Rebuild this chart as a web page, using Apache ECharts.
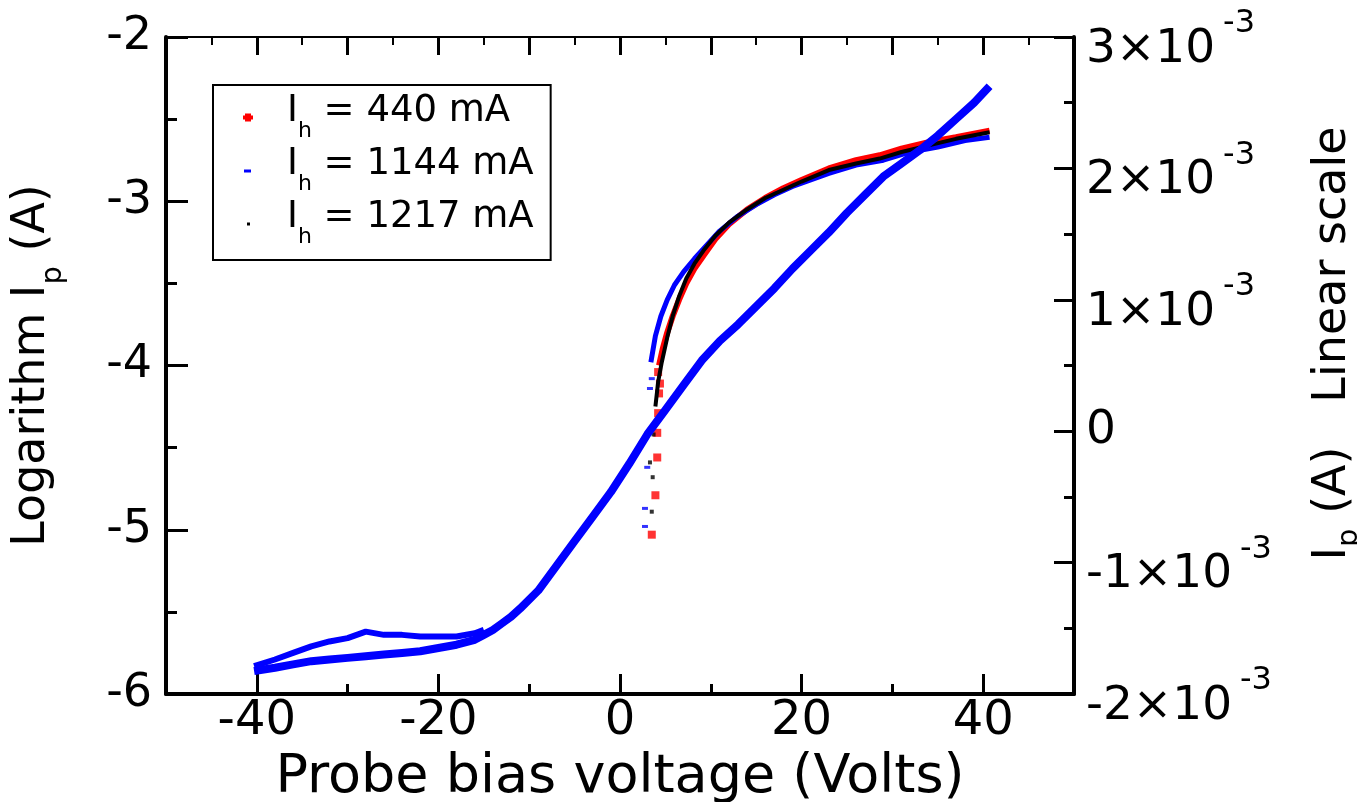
<!DOCTYPE html>
<html>
<head>
<meta charset="utf-8">
<script src="https://cdn.jsdelivr.net/npm/echarts@6/dist/echarts.min.js"></script>
<style>html,body{margin:0;padding:0;background:#fff}#c{width:1357px;height:802px}</style>
</head>
<body>
<div id="c"></div>
<script>
// ---- data (log10 of probe current, A) ----
const xMajorTicks = [-40, -20, 0, 20, 40];
const xMinorTicks = [-30, -10, 10, 30];
const rightTicks = [-2, -1, 0, 1, 2, 3]; // units of 1e-3 A

const blueLoopUpper = [[-40.3,-5.83],[-38,-5.79],[-36,-5.75],[-34,-5.71],[-32,-5.68],[-30,-5.66],[-28,-5.62],[-26,-5.64],[-24,-5.64],[-22,-5.65],[-20,-5.65],[-18,-5.65],[-16,-5.63],[-15,-5.61]];
const blueMain = [[-40.3,-5.86],[-38,-5.84],[-36,-5.82],[-34,-5.80],[-32,-5.79],[-30,-5.78],[-28,-5.77],[-26,-5.76],[-24,-5.75],[-22,-5.74],[-20,-5.72],[-18,-5.70],[-16,-5.67],[-15,-5.64],[-14,-5.61],[-13,-5.57],[-12,-5.53],[-11,-5.48],[-9,-5.37],[-7,-5.22],[-5,-5.07],[-3,-4.92],[-1,-4.77],[1,-4.60],[3,-4.42],[5,-4.27],[7,-4.12],[9,-3.97],[11,-3.85],[13,-3.75],[15,-3.64],[17,-3.53],[19,-3.41],[21,-3.30],[23,-3.19],[25,-3.07],[27,-2.96],[29,-2.85],[31,-2.77],[33,-2.69],[35,-2.60],[37,-2.50],[39,-2.40],[40.7,-2.30]];
const blueSat = [[3.4,-3.98],[3.9,-3.82],[4.5,-3.70],[5.2,-3.60],[6.0,-3.51],[7.0,-3.43],[8.2,-3.35],[9.5,-3.27],[11,-3.18],[13,-3.09],[15,-3.02],[17,-2.96],[19,-2.91],[21,-2.87],[23,-2.83],[26,-2.78],[29,-2.75],[32,-2.70],[35,-2.67],[38,-2.63],[40.7,-2.61]];
const blueDots = [[2.75,-4.98],[2.75,-4.87],[3.0,-4.62],[3.3,-4.14],[3.5,-4.08]];

const redLine = [[4.3,-4.00],[4.7,-3.90],[5.2,-3.80],[5.8,-3.70],[6.5,-3.60],[7.3,-3.50],[8.2,-3.41],[9.2,-3.33],[10.5,-3.23],[12,-3.14],[14,-3.05],[16,-2.98],[18,-2.92],[20,-2.87],[23,-2.80],[26,-2.75],[28.6,-2.72],[31,-2.68],[34,-2.64],[37,-2.61],[40.7,-2.57]];
const redDots = [[3.5,-5.03],[3.9,-4.79],[4.1,-4.56],[4.1,-4.41],[4.2,-4.29],[4.3,-4.17],[4.4,-4.11],[4.2,-4.04]];

const blackLine = [[3.9,-4.25],[4.2,-4.10],[4.6,-3.98],[5.2,-3.83],[5.8,-3.70],[6.5,-3.58],[7.3,-3.47],[8.2,-3.38],[9.2,-3.30],[10.5,-3.21],[12,-3.13],[14,-3.05],[16,-2.98],[18,-2.93],[20,-2.88],[23,-2.81],[26,-2.77],[28.6,-2.74],[31,-2.70],[34,-2.66],[37,-2.62],[40.7,-2.58]];
const blackDots = [[3.5,-4.89],[3.6,-4.68],[3.3,-4.59],[3.7,-4.42]];

const legendLabels = { h440: '440 mA', h1144: '1144 mA', h1217: '1217 mA' };

const FONT = 'DejaVu Sans';
const chart = echarts.init(document.getElementById('c'), null, { renderer: 'canvas' });

const axisLineStyle = (w) => ({ show: true, onZero: false, lineStyle: { color: '#000', width: w } });

const option = {
  animation: false,
  backgroundColor: '#fff',
  grid: { left: 166, right: 283, top: 37, bottom: 108, containLabel: false, outerBoundsMode: 'none' },
  legend: {
    orient: 'vertical', left: 213, top: 85,
    borderColor: '#000', borderWidth: 2, padding: [8, 17, 12, 29],
    itemGap: 4, itemWidth: 12, itemHeight: 12, selectedMode: false,
    formatter: (n) => '{a0|I}{s|h}{a| = ' + legendLabels[n] + '}',
    textStyle: {
      fontFamily: FONT, color: '#000',
      rich: {
        a0: { fontFamily: FONT, fontSize: 37, color: '#000', verticalAlign: 'top', padding: [0, 0, 0, 28] },
        a: { fontFamily: FONT, fontSize: 37, color: '#000', verticalAlign: 'top' },
        s: { fontFamily: FONT, fontSize: 22, color: '#000', verticalAlign: 'top', padding: [27, 0, 0, 0] }
      }
    },
    data: [
      { name: 'h440', icon: 'path://M0,0M12,12M3,2h6v2h2v4h-2v2h-6v-2h-2v-4h2z', itemStyle: { color: '#ff0000', borderWidth: 0 } },
      { name: 'h1144', icon: 'path://M0,0M12,12M2,5h7v3h-7z', itemStyle: { color: '#0000ff', borderWidth: 0 } },
      { name: 'h1217', icon: 'path://M0,0M12,12M5,5h3v3h-3z', itemStyle: { color: '#000', borderWidth: 0 } }
    ]
  },
  xAxis: [
    {
      type: 'value', position: 'bottom', min: -50, max: 50,
      axisLine: axisLineStyle(4),
      axisTick: { show: true, inside: true, length: 20, lineStyle: { color: '#000', width: 3 }, customValues: xMajorTicks },
      axisLabel: { show: true, customValues: xMajorTicks, fontFamily: FONT, fontSize: 48, color: '#000', margin: 4 },
      splitLine: { show: false },
      name: 'Probe bias voltage (Volts)', nameLocation: 'middle', nameGap: 49,
      nameTextStyle: { fontFamily: FONT, fontSize: 54, color: '#000' }
    },
    {
      type: 'value', position: 'bottom', min: -50, max: 50,
      axisLine: { show: false, onZero: false },
      axisTick: { show: true, inside: true, length: 10, lineStyle: { color: '#000', width: 3 }, customValues: xMinorTicks },
      axisLabel: { show: false }, splitLine: { show: false }
    },
    {
      type: 'value', position: 'top', min: -50, max: 50, interval: 10,
      axisLine: axisLineStyle(2),
      axisTick: { show: true, inside: true, length: 18, lineStyle: { color: '#000', width: 3 } },
      minorTick: { show: true, splitNumber: 2, length: 8, lineStyle: { color: '#000', width: 2 } },
      axisLabel: { show: false }, splitLine: { show: false }
    }
  ],
  yAxis: [
    {
      type: 'value', position: 'left', min: -6, max: -2, interval: 1,
      axisLine: axisLineStyle(4),
      axisTick: { show: true, inside: true, length: 22, lineStyle: { color: '#000', width: 3 } },
      minorTick: { show: true, splitNumber: 2, length: 11, lineStyle: { color: '#000', width: 3 } },
      axisLabel: { fontFamily: FONT, fontSize: 46, color: '#000', margin: 14 },
      splitLine: { show: false },
      name: '{a|Logarithm I}{s|p}{a| (A)}', nameLocation: 'middle', nameGap: 98,
      nameTextStyle: {
        fontFamily: FONT, fontSize: 46, color: '#000',
        rich: {
          a: { fontFamily: FONT, fontSize: 46, color: '#000', verticalAlign: 'top' },
          s: { fontFamily: FONT, fontSize: 29, color: '#000', verticalAlign: 'top', padding: [30, 0, 0, 0] }
        }
      }
    },
    {
      type: 'value', position: 'right', min: -2, max: 3, interval: 1,
      axisLine: axisLineStyle(4),
      axisTick: { show: true, inside: true, length: 20, lineStyle: { color: '#000', width: 3 } },
      minorTick: { show: true, splitNumber: 2, length: 10, lineStyle: { color: '#000', width: 3 } },
      axisLabel: {
        fontFamily: FONT, fontSize: 47, color: '#000', margin: 12,
        formatter: (v) => (Math.round(v) === 0 ? '0' : '{m|' + Math.round(v) + '×10}{s|-3}'),
        rich: {
          m: { fontFamily: FONT, fontSize: 47, color: '#000', verticalAlign: 'bottom', lineHeight: 72 },
          s: { fontFamily: FONT, fontSize: 32, color: '#000', verticalAlign: 'top', padding: [7, 0, 0, 8] }
        }
      },
      splitLine: { show: false },
      name: '{a0|I}{s|p}{a| (A)   Linear scale}', nameLocation: 'middle', nameGap: 236,
      nameTextStyle: {
        fontFamily: FONT, fontSize: 46, color: '#000',
        rich: {
          a0: { fontFamily: FONT, fontSize: 46, color: '#000', verticalAlign: 'top', padding: [0, 0, 0, 44] },
          a: { fontFamily: FONT, fontSize: 46, color: '#000', verticalAlign: 'top' },
          s: { fontFamily: FONT, fontSize: 29, color: '#000', verticalAlign: 'top', padding: [25, 0, 0, 0] }
        }
      }
    }
  ],
  series: [
    { name: 'h440', type: 'line', data: redLine, showSymbol: false, symbol: 'none', z: 2,
      lineStyle: { color: '#ff0000', width: 6 }, itemStyle: { color: '#ff0000' }, emphasis: { disabled: true } },
    { name: 'h440', type: 'scatter', data: redDots, symbol: 'rect', symbolSize: 8, z: 2,
      itemStyle: { color: '#ff0000' }, emphasis: { disabled: true } },
    { name: 'h1144', type: 'line', data: blueSat, showSymbol: false, symbol: 'none', z: 3,
      lineStyle: { color: '#0000ff', width: 5 }, itemStyle: { color: '#0000ff' }, emphasis: { disabled: true } },
    { name: 'h1217', type: 'line', data: blackLine, showSymbol: false, symbol: 'none', z: 4,
      lineStyle: { color: '#000', width: 4 }, itemStyle: { color: '#000' }, emphasis: { disabled: true } },
    { name: 'h1217', type: 'scatter', data: blackDots, symbol: 'rect', symbolSize: 4, z: 4,
      itemStyle: { color: '#000' }, emphasis: { disabled: true } },
    { name: 'h1144', type: 'line', data: blueMain, showSymbol: false, symbol: 'none', z: 5,
      lineStyle: { color: '#0000ff', width: 8 }, itemStyle: { color: '#0000ff' }, emphasis: { disabled: true } },
    { name: 'h1144', type: 'line', data: blueLoopUpper, showSymbol: false, symbol: 'none', z: 5,
      lineStyle: { color: '#0000ff', width: 6 }, itemStyle: { color: '#0000ff' }, emphasis: { disabled: true } },
    { name: 'h1144', type: 'scatter', data: blueDots, symbol: 'rect', symbolSize: [6, 3], z: 5,
      itemStyle: { color: '#0000ff' }, emphasis: { disabled: true } }
  ]
};
chart.setOption(option);
</script>
</body>
</html>
